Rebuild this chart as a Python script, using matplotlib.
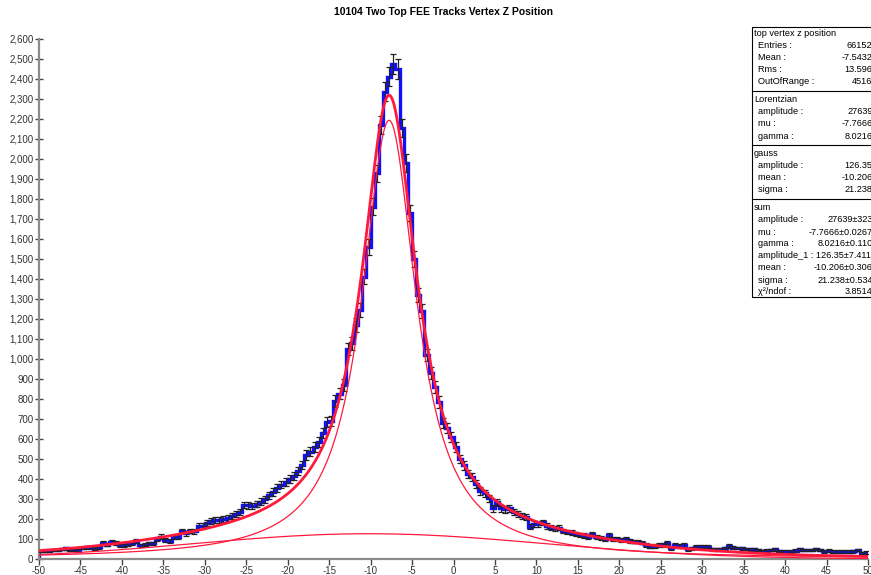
import numpy as np
import matplotlib
matplotlib.use('Agg')
import matplotlib.pyplot as plt
from matplotlib.patches import Rectangle
from matplotlib.ticker import FuncFormatter, MultipleLocator

# histogram: 200 bins of 0.5 from -50 to 50, counts
bin_edges = np.linspace(-50, 50, 201)
counts = [
    # -50 .. -30.5
    40, 42, 40, 45, 45, 50, 53, 45, 48, 42, 55, 58, 58, 52, 60, 80, 72, 85, 80, 70,
    68, 75, 80, 90, 68, 72, 78, 78, 100, 112, 95, 90, 108, 112, 140, 128, 140, 138, 165, 165,
    # -30 .. -15.5
    180, 190, 195, 195, 200, 205, 215, 225, 237, 270, 268, 265, 275, 287, 298, 318, 335, 355, 372, 385,
    400, 415, 440, 470, 520, 537, 560, 585, 630, 685,
    # -15 .. -7
    690, 790, 827, 870, 1050, 1078, 1170, 1245, 1412, 1562, 1762, 1928, 2170, 2337, 2412, 2475, 2450,
    # -6.5 .. 2.5
    2155, 1980, 1730, 1500, 1320, 1240, 1020, 930, 860, 785, 680, 655, 610, 560, 500, 468, 425, 410, 375,
    # 3 .. 20.5
    340, 328, 303, 253, 283, 253, 248, 253, 237, 225, 217, 212, 162, 175, 175, 183, 165, 157, 153, 157,
    140, 135, 132, 125, 120, 117, 112, 125, 108, 103, 102, 120, 98, 98, 95, 98,
    # 21 .. 49.5
    92, 87, 87, 82, 70, 62, 65, 70, 70, 82, 53, 70, 65, 70, 48, 53, 62, 62, 62, 62,
    48, 48, 50, 53, 65, 57, 55, 53, 50, 48, 48, 45, 40, 42, 45, 48, 40, 37, 37, 37,
    42, 48, 45, 45, 45, 50, 45, 38, 42, 37, 37, 37, 37, 37, 38, 45, 30, 32,
]

# fit parameters as printed in the stats box
lor_amp, lor_mu, lor_gamma = 27639, -7.7666, 8.0216
gau_amp, gau_mean, gau_sigma = 126.35, -10.206, 21.238

stats_rows = [
    ('title', 'top vertex z position', ''),
    ('row', 'Entries :', '66152'),
    ('row', 'Mean :', '-7.5432'),
    ('row', 'Rms :', '13.596'),
    ('row', 'OutOfRange :', '4516'),
    ('sep', '', ''),
    ('title', 'Lorentzian', ''),
    ('row', 'amplitude :', '27639'),
    ('row', 'mu :', '-7.7666'),
    ('row', 'gamma :', '8.0216'),
    ('sep', '', ''),
    ('title', 'gauss', ''),
    ('row', 'amplitude :', '126.35'),
    ('row', 'mean :', '-10.206'),
    ('row', 'sigma :', '21.238'),
    ('sep', '', ''),
    ('title', 'sum', ''),
    ('row', 'amplitude :', '27639±323'),
    ('row', 'mu :', '-7.7666±0.0267'),
    ('row', 'gamma :', '8.0216±0.110'),
    ('row', 'amplitude_1 : 126.35±7.411', ''),
    ('row', 'mean :', '-10.206±0.306'),
    ('row', 'sigma :', '21.238±0.534'),
    ('row', 'χ²/ndof :', '3.8514'),
]

W, H = 871, 575
RED = '#ff1a3c'


def lorentzian(x):
    hw = lor_gamma / 2
    return lor_amp / np.pi * hw / ((x - lor_mu) ** 2 + hw ** 2)


def gauss(x):
    return gau_amp * np.exp(-(x - gau_mean) ** 2 / (2 * gau_sigma ** 2))


def fx(px):
    return px / W


def fy(py):
    return 1 - py / H


def main():
    plt.rcParams['font.family'] = ['Liberation Sans', 'DejaVu Sans']
    fig = plt.figure(figsize=(W / 100, H / 100), dpi=100)
    ax = fig.add_axes([fx(39), fy(559), fx(868) - fx(39), fy(39) - fy(559)])

    y = np.array(counts, dtype=float)
    centers = 0.5 * (bin_edges[:-1] + bin_edges[1:])
    ax.stairs(y, bin_edges, baseline=0, color='#1010ff', lw=2.4, zorder=2)
    ax.errorbar(centers, y, yerr=np.sqrt(y), fmt='none', ecolor='#222222',
                elinewidth=0.9, capsize=2.0, capthick=0.9, zorder=3)

    xs = np.linspace(-50, 50, 1000)
    ax.plot(xs, lorentzian(xs), color=RED, lw=0.9, zorder=4)
    ax.plot(xs, gauss(xs), color=RED, lw=0.9, zorder=4)
    ax.plot(xs, lorentzian(xs) + gauss(xs), color=RED, lw=2.0, zorder=5)

    ax.set_xlim(-50, 50)
    ax.set_ylim(0, 2600)
    ax.xaxis.set_major_locator(MultipleLocator(5))
    ax.yaxis.set_major_locator(MultipleLocator(100))
    ax.yaxis.set_major_formatter(FuncFormatter(lambda v, p: f'{v:,.0f}'))
    ax.xaxis.set_major_formatter(FuncFormatter(lambda v, p: f'{v:.0f}'))
    for s in ('top', 'right'):
        ax.spines[s].set_visible(False)
    for s in ('left', 'bottom'):
        ax.spines[s].set_color('#8c8c8c')
        ax.spines[s].set_linewidth(1.6)
    ax.tick_params(axis='y', direction='inout', length=6, width=1, color='#444444',
                   labelsize=7, labelcolor='#333333', pad=1)
    ax.tick_params(axis='x', direction='out', length=4, width=1, color='#444444',
                   labelsize=7, labelcolor='#333333', pad=1)
    ax.set_facecolor('none')

    fig.text(fx(443), fy(12), '10104 Two Top FEE Tracks Vertex Z Position',
             ha='center', va='center', fontsize=7.5, fontweight='bold')

    # stats box
    top, left, pitch = 27, 752, 12
    box = Rectangle((fx(left), fy(297)), fx(W + 5) - fx(left), fy(top) - fy(297),
                    transform=fig.transFigure, facecolor='white', edgecolor='black',
                    lw=0.8, zorder=10)
    fig.patches.append(box)
    py = top + 7
    for kind, label, value in stats_rows:
        if kind == 'sep':
            py += 6
            fig.add_artist(plt.Line2D([fx(left), fx(W)], [fy(py - 9.5), fy(py - 9.5)],
                                      transform=fig.transFigure, color='black', lw=0.8, zorder=11))
            continue
        xl = left + 2 if kind == 'title' else left + 6
        fig.text(fx(xl), fy(py), label, ha='left', va='center', fontsize=6.6, zorder=12)
        if value:
            fig.text(fx(W + 1.5), fy(py), value, ha='right', va='center', fontsize=6.6, zorder=12)
        py += pitch

    fig.savefig('out.png', dpi=100)


if __name__ == '__main__':
    main()
